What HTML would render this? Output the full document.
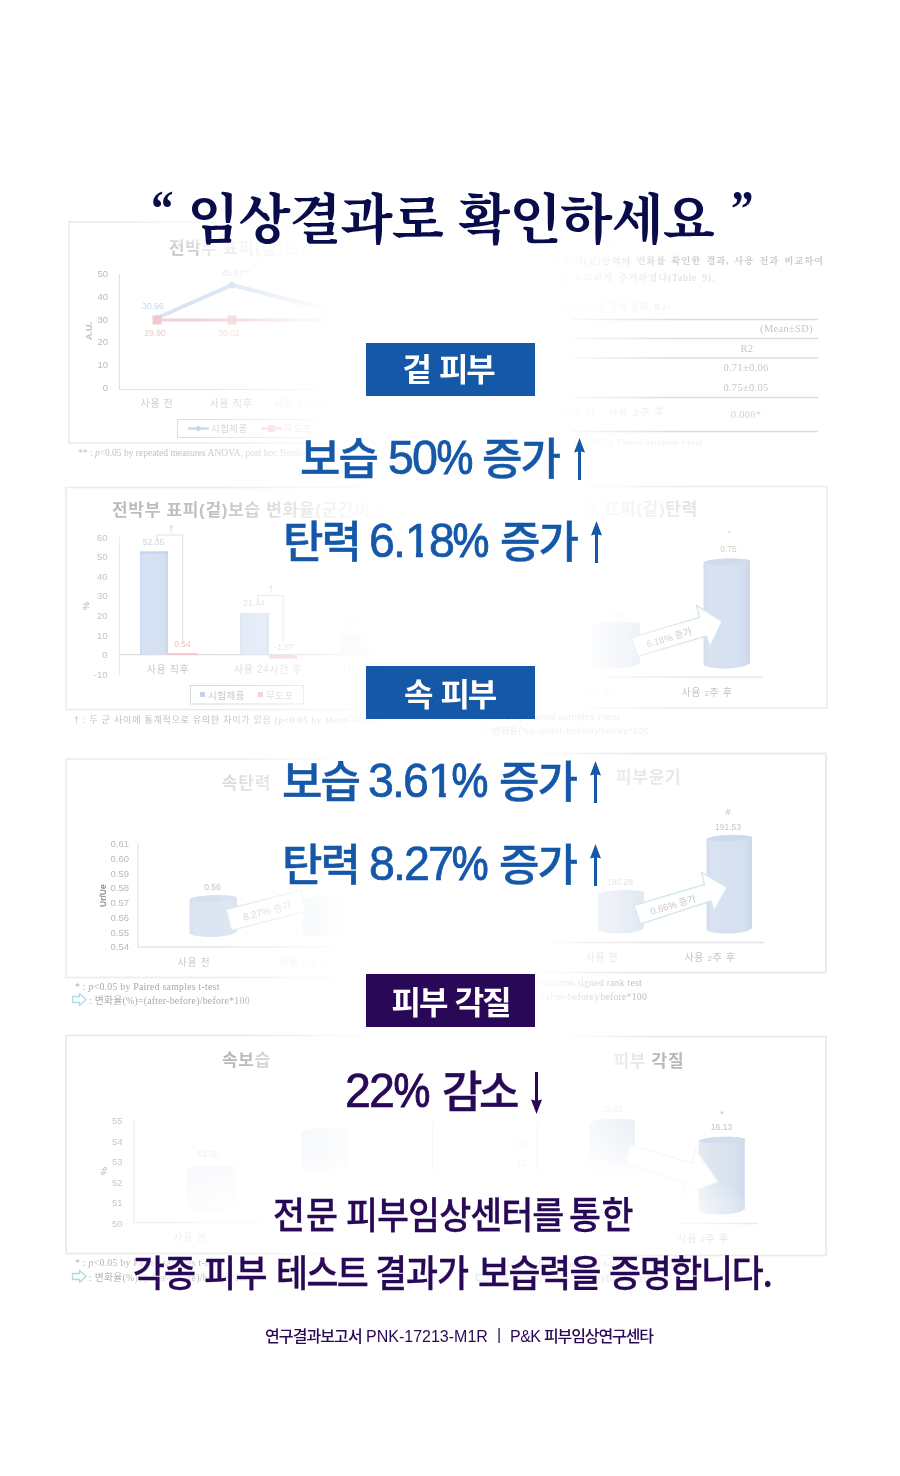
<!DOCTYPE html>
<html lang="ko">
<head>
<meta charset="utf-8">
<title>임상결과로 확인하세요</title>
<style>
html,body{margin:0;padding:0;background:#fff;}
body{width:900px;height:1476px;position:relative;overflow:hidden;font-family:"Liberation Sans","Noto Sans CJK KR",sans-serif;}
.abs,.k,.n,.ar{position:absolute;white-space:nowrap;}
#fg{position:absolute;left:0;top:0;width:900px;height:1476px;}
h1{margin:0;position:absolute;left:0;top:194px;width:900px;height:54px;font-family:"Liberation Serif","Noto Serif CJK SC",serif;font-weight:700;font-size:54px;color:#080c4a;line-height:54px;letter-spacing:-1px;}
h1 span{position:absolute;top:0;white-space:nowrap;}
h1 .q{font-size:50px;top:-13px;transform:scaleX(.9);transform-origin:0 0;}
.badge{left:366px;width:169px;height:53px;color:#fff;}
.badge span{position:absolute;top:0;line-height:53px;font-weight:700;font-size:32px;letter-spacing:-2px;word-spacing:2px;font-family:"Noto Sans CJK KR","NanumGothic",sans-serif;white-space:nowrap;}
.blue{background:#1558a8;}
.purple{background:#290857;}
.row{position:absolute;left:0;width:900px;height:44px;color:#1558a8;fill:#1558a8;}
.row.p{color:#290857;fill:#290857;}
.k{top:0;-webkit-text-stroke:0.4px currentColor;font-family:"Noto Sans CJK KR","NanumGothic",sans-serif;font-weight:500;font-size:44px;line-height:44px;letter-spacing:-2px;}
.n{top:-2px;font-family:"Liberation Sans",sans-serif;font-weight:400;font-size:49px;line-height:50px;letter-spacing:-2px;-webkit-text-stroke:0.7px currentColor;transform:scaleX(.95);transform-origin:0 50%;}
.n b{font-weight:400;display:inline-block;text-shadow:none;margin-left:1px;clip-path:polygon(0 0,18.8px 0,18.8px 100%,11.5px 100%,11.5px 50%,0 50%);}
.n i{font-style:normal;display:inline-block;transform:scaleX(.89);transform-origin:0 50%;-webkit-text-stroke:1.1px currentColor;text-shadow:none;margin-left:0;}
.ar{top:3.5px;width:11px;height:42px;}
.body{position:absolute;left:0;width:900px;height:37px;font-family:"Noto Sans CJK KR","NanumGothic",sans-serif;font-weight:500;font-size:37px;line-height:37px;letter-spacing:-1px;color:#290857;}
.body span{position:absolute;top:0;white-space:nowrap;transform:scaleX(.94);transform-origin:0 0;-webkit-text-stroke:0.3px currentColor;}
.foot{position:absolute;left:0;width:900px;height:16px;font-size:16px;line-height:16px;color:#290857;}
.foot span{position:absolute;top:0;white-space:nowrap;}
.foot .fk{font-family:"Noto Sans CJK KR","NanumGothic",sans-serif;font-weight:500;letter-spacing:-0.9px;}
.foot .fl{font-family:"Liberation Sans",sans-serif;font-weight:400;top:1.5px;}
.k,.n,.body span,h1 span{text-shadow:0 0 3px #fff,0 0 7px #fff,0 0 12px rgba(255,255,255,.8);}
</style>
</head>
<body>
<div id="bg"><svg id="bgsvg" width="900" height="1476" viewBox="0 0 900 1476" style="position:absolute;left:0;top:0" font-family="'Liberation Sans','Noto Sans CJK KR',sans-serif">
<defs>
  <linearGradient id="fadeL" x1="0" x2="1" y1="0" y2="0">
    <stop offset="0" stop-color="#fff" stop-opacity="0"/>
    <stop offset="1" stop-color="#fff" stop-opacity="1"/>
  </linearGradient>
  <linearGradient id="fadeR" x1="0" x2="1" y1="0" y2="0">
    <stop offset="0" stop-color="#fff" stop-opacity="1"/>
    <stop offset="1" stop-color="#fff" stop-opacity="0"/>
  </linearGradient>
  <radialGradient id="glow" cx=".5" cy=".5" r=".5">
    <stop offset="0" stop-color="#fff" stop-opacity="1"/>
    <stop offset=".55" stop-color="#fff" stop-opacity="1"/>
    <stop offset=".8" stop-color="#fff" stop-opacity=".6"/>
    <stop offset="1" stop-color="#fff" stop-opacity="0"/>
  </radialGradient>
  <linearGradient id="tg2" gradientUnits="userSpaceOnUse" x1="112" x2="390" y1="0" y2="0">
    <stop offset="0" stop-color="#bcbcbc"/>
    <stop offset=".4" stop-color="#c2c2c2"/>
    <stop offset=".7" stop-color="#d6d6d6"/>
    <stop offset="1" stop-color="#e6e6e6"/>
  </linearGradient>
  <linearGradient id="cyl" x1="0" x2="1" y1="0" y2="0">
    <stop offset="0" stop-color="#d3ddee"/>
    <stop offset=".12" stop-color="#d8e2f1"/>
    <stop offset=".8" stop-color="#d5e0f0"/>
    <stop offset="1" stop-color="#ccd8ea"/>
  </linearGradient>
  <linearGradient id="cyl4" x1="0" x2="1" y1="0" y2="0">
    <stop offset="0" stop-color="#e4eaf4"/>
    <stop offset=".35" stop-color="#dde5f1"/>
    <stop offset=".8" stop-color="#d6e0ef"/>
    <stop offset="1" stop-color="#cfdaeb"/>
  </linearGradient>
  <linearGradient id="cylv" x1="0" x2="0" y1="0" y2="1">
    <stop offset="0" stop-color="#e6ebf4"/>
    <stop offset=".45" stop-color="#edf1f7"/>
    <stop offset="1" stop-color="#ffffff"/>
  </linearGradient>
  <linearGradient id="cylf" x1="0" x2="1" y1="0" y2="0">
    <stop offset="0" stop-color="#e9eef6"/>
    <stop offset="1" stop-color="#e3e9f3"/>
  </linearGradient>
  <linearGradient id="bar" x1="0" x2="1" y1="0" y2="0">
    <stop offset="0" stop-color="#cddbf0"/>
    <stop offset=".15" stop-color="#d6e2f4"/>
    <stop offset=".85" stop-color="#d4e0f2"/>
    <stop offset="1" stop-color="#c8d5e9"/>
  </linearGradient>
</defs>
<g id="p1">
  <rect x="69" y="222" width="361" height="221" fill="none" stroke="#ececec" stroke-width="1.6"/>
  <text x="169" y="254" font-size="17" font-weight="700" fill="#dcdcdc" letter-spacing="0.5"><tspan fill="#c6c6c6">전박</tspan>부 표피(겉)보습</text>
  <g font-size="9.5" fill="#b9b9b9" text-anchor="end">
    <text x="108" y="276.500">50</text><text x="108" y="299.500">40</text><text x="108" y="322.500">30</text>
    <text x="108" y="345">20</text><text x="108" y="367.500">10</text><text x="108" y="390.500">0</text>
  </g>
  <text transform="translate(92,340) rotate(-90)" font-size="9" font-weight="700" fill="#b8b8b8">A.U.</text>
  <path d="M119.500 274 V389.500 H340" fill="none" stroke="#e3e3e3" stroke-width="1.2"/>
  <path d="M157 318 L232 285 L310 305 L360 312" fill="none" stroke="#d9e4f4" stroke-width="4" stroke-linejoin="round"/>
  <path d="M157 320 H360" fill="none" stroke="#f3d3d6" stroke-width="3.2"/>
  <path d="M232 281 l4 4 -4 4 -4 -4z M157 314 l4 4 -4 4 -4 -4z" fill="#cfdcf0"/>
  <rect x="152.500" y="315.500" width="9" height="9" fill="#f0c9cd"/><rect x="227.500" y="315.500" width="9" height="9" fill="#f3d3d6"/>
  <g font-size="8.500" text-anchor="middle">
    <text x="153" y="309" fill="#c9d6ec">30.96</text><text x="236" y="276" fill="#dfe7f3">45.57**</text>
    <text x="155" y="336" fill="#f1c9cc">29.90</text><text x="229" y="336" fill="#f5d9db">30.02</text>
  </g>
  <g font-size="10" fill="#cfcfcf" text-anchor="middle" letter-spacing="0.6">
    <text x="157" y="407">사용 전</text><text x="231" y="407" fill="#d6d6d6">사용 직후</text><text x="308" y="407" fill="#e6e6e6">사용 24시간 후</text>
  </g>
  <rect x="177.500" y="419.500" width="144" height="18" fill="#fff" stroke="#dedede" stroke-width="1"/>
  <path d="M188 428.500 H209" stroke="#cddaee" stroke-width="2.600"/><path d="M198.500 425.500 l3 3 -3 3 -3 -3z" fill="#c5d4ec"/>
  <text x="211" y="432" font-size="9.500" fill="#cdcdcd" letter-spacing="0.4">시험제품</text>
  <path d="M261 428.500 H282" stroke="#f3d3d6" stroke-width="2.600"/><rect x="268" y="425" width="7" height="7" fill="#f1cdd0"/>
  <text x="284" y="432" font-size="9.500" fill="#d8d8d8" letter-spacing="0.4">무도포</text>
  <text x="78" y="456" font-size="9.500" fill="#c2c2c2" font-family="'Liberation Serif',serif">** : <tspan font-style="italic">p</tspan>&lt;0.05  by repeated measures ANOVA, post hoc Bonferroni</text>
</g>
<g id="p1r" font-family="'Liberation Serif','Noto Serif CJK SC',serif">
  <text x="452" y="249" font-size="9" font-weight="700" fill="#ededed" letter-spacing="1">9-8-3. 전박부 표피(겉) 탄력 평가 결과</text>
  <text x="824" y="264" font-size="9.500" font-weight="700" fill="#c9c9c9" text-anchor="end" letter-spacing="0.75" word-spacing="2">시험제품 사용 후 표피(겉)탄력의 변화를 확인한 결과, 사용 전과 비교하여</text>
  <text x="715" y="281" font-size="9.500" fill="#d9d9d9" text-anchor="end" letter-spacing="0.8" word-spacing="2">사용 2주 후 통계적으로 유의하게 증가하였다(Table 9).</text>
  <text x="672" y="310" font-size="9" fill="#ececec" text-anchor="end" letter-spacing="0.6">&lt;Table 9. 표피(겉)탄력 측정 결과, R2&gt;</text>
  <g stroke="#dcdcdc" stroke-width="1.3">
    <path d="M572 319.500 H818 M572 338.500 H818 M572 358 H818 M572 397.500 H818 M572 431.500 H818"/>
  </g>
  <g font-size="10.500" fill="#c6c6c6" text-anchor="middle" letter-spacing="0.3">
    <text x="786.500" y="332">(Mean±SD)</text>
    <text x="747" y="351.500">R2</text>
    <text x="746" y="371">0.71±0.06</text>
    <text x="746" y="390.500">0.75±0.05</text>
    <text x="746" y="417.500" fill="#d3d3d3">0.006*</text>
    <text x="612" y="416" fill="#e6e6e6" letter-spacing="1">사용 전 - 사용 2주 후</text>
  </g>
  <text x="560" y="444.500" font-size="9" fill="#ebebeb" letter-spacing="0.5">* : p&lt;0.05 by Paired samples t-test</text>
</g>
<g id="p2l">
  <rect x="66" y="487.500" width="384" height="222" fill="none" stroke="#ececec" stroke-width="1.6"/>
  <rect x="450" y="486.500" width="377" height="221.500" fill="none" stroke="#ececec" stroke-width="1.6"/>
  <text x="112" y="516" font-size="17" font-weight="700" fill="url(#tg2)" letter-spacing="0.7">전박부 표피(겉)보습 변화율(군간비교)</text>
  <g font-size="9.500" fill="#c4c4c4" text-anchor="end">
    <text x="107.500" y="540.500">60</text><text x="107.500" y="560">50</text><text x="107.500" y="579.500">40</text><text x="107.500" y="599">30</text>
    <text x="107.500" y="618.500">20</text><text x="107.500" y="638.500">10</text><text x="107.500" y="658">0</text><text x="107.500" y="678">-10</text>
  </g>
  <text transform="translate(88.500,610) rotate(-90)" font-size="9" fill="#a8a8a8">%</text>
  <path d="M119.500 537 V675" fill="none" stroke="#ebebeb" stroke-width="1.2"/>
  <path d="M119.500 654.700 H380" fill="none" stroke="#dcdcdc" stroke-width="1.2"/>
  <rect x="140" y="551.500" width="28" height="103" fill="url(#bar)"/>
  <rect x="140" y="551.500" width="28" height="2" fill="#c5d3e8"/>
  <rect x="168" y="653.200" width="29" height="1.800" fill="#f0c4c8"/>
  <rect x="240" y="613" width="29" height="41.500" fill="url(#bar)" opacity=".8"/>
  <rect x="269" y="655" width="28" height="3.500" fill="#f3cdd0"/>
  <rect x="340" y="633.500" width="29" height="21" fill="url(#bar)" opacity=".5"/>
  <path d="M157 541 V535 H182.700 V643" fill="none" stroke="#e2e2e2" stroke-width="1.1"/>
  <path d="M258 601 V595.500 H283.200 V642" fill="none" stroke="#e2e2e2" stroke-width="1.1"/>
  <g font-size="8.500" text-anchor="middle">
    <text x="171" y="531.500" fill="#c6c6c6">†</text><text x="271" y="592" fill="#d2d2d2">†</text>
    <text x="153.500" y="545" fill="#c9d6ea">52.35</text><text x="182.500" y="647" fill="#efbfc3">0.54</text>
    <text x="254" y="606" fill="#d5deee">21.44</text><text x="284" y="649.500" fill="#f2d0d3">-1.87</text>
    <text x="352" y="625.500" fill="#e6ebf4">11.58</text>
  </g>
  <g font-size="10" fill="#c9c9c9" text-anchor="middle" letter-spacing="0.6">
    <text x="168" y="673">사용 직후</text><text x="268" y="673" fill="#d6d6d6">사용 24시간 후</text><text x="368" y="673" fill="#e2e2e2">사용 1주 후</text>
  </g>
  <rect x="190.500" y="685.500" width="113" height="18.500" fill="#fff" stroke="#d8d8d8" stroke-width="1"/>
  <rect x="200" y="692" width="5" height="5" fill="#c3d2ea"/><text x="208" y="698.500" font-size="9.500" fill="#c6c6c6" letter-spacing="0.5">시험제품</text>
  <rect x="258" y="692" width="5" height="5" fill="#f0c4c8"/><text x="266" y="698.500" font-size="9.500" fill="#cecece" letter-spacing="0.5">무도포</text>
  <text x="74" y="722.500" font-size="9" fill="#c0c0c0" letter-spacing="0.75">† : 두 군 사이에 통계적으로 유의한 차이가 있음 <tspan font-family="'Liberation Serif',serif">(<tspan font-style="italic">p</tspan>&lt;0.05 by Mann-Whitney U test)</tspan></text>
</g>
<g id="p2r">
  <text x="698" y="515" font-size="17" font-weight="700" fill="#ebebeb" text-anchor="end" letter-spacing="0.7">전박부 표피(겉)<tspan fill="#e4e4e4">탄력</tspan></text>
  <path d="M592 625.7 C598.7 620.9000000000001, 633.3 620.5, 640 623.7 V663 C633.3 669.8, 598.7 670.2, 592 665Z" fill="url(#cylf)"/>
  <path d="M703.5 562.5 C710.0 557.7, 743.5 557.3, 750 560.5 V663 C743.5 669.8, 710.0 670.2, 703.5 665Z" fill="url(#cyl)"/>
  <path d="M703.5 562.5 C710.0 557.7, 743.5 557.3, 750 560.5 C743.5 565.5, 710.0 566.5, 703.5 562.5Z" fill="#d0dbec"/>
  <path d="M604 677.200 H763" stroke="#e3e3e3" stroke-width="1.3"/>
  <path d="M631.500 637.500 L699.500 617.300 L696.700 605.600 L722 621.500 L710 646.700 L706.300 636 L637.500 656.500Z" fill="#fff" stroke="#d3e9ef" stroke-width="1.4" stroke-linejoin="miter"/>
  <text transform="translate(670,641) rotate(-16.500)" font-size="9.500" fill="#c8c8c8" text-anchor="middle">6.18% 증가</text>
  <g font-size="8.500" text-anchor="middle" fill="#cfcfcf">
    <text x="728.500" y="551.500">0.75</text><text x="616" y="617.500" fill="#e8e8e8">0.71</text><text x="729" y="536" fill="#dadada">*</text>
  </g>
  <g font-size="10" fill="#c4c4c4" text-anchor="middle" letter-spacing="0.6">
    <text x="707" y="695.500">사용 <tspan font-size="8">2</tspan>주 후</text><text x="598" y="695.500" fill="#f0f0f0">사용 전</text>
  </g>
</g>
<g id="p3l">
  <rect x="66" y="759" width="384" height="218.500" fill="none" stroke="#ececec" stroke-width="1.6"/>
  <text x="222" y="789" font-size="17" font-weight="700" fill="#d8d8d8" letter-spacing="0.7">속탄력</text>
  <g font-size="9.500" fill="#b9b9b9" text-anchor="end">
    <text x="129" y="847">0.61</text><text x="129" y="862">0.60</text><text x="129" y="876.500">0.59</text><text x="129" y="891">0.58</text>
    <text x="129" y="906">0.57</text><text x="129" y="920.500">0.56</text><text x="129" y="935.500">0.55</text><text x="129" y="950">0.54</text>
  </g>
  <text transform="translate(105.500,907) rotate(-90)" font-size="8.500" font-weight="700" fill="#8f8f8f">Ur/Ue</text>
  <path d="M138 843 V947 H340" fill="none" stroke="#e6e6e6" stroke-width="1.3"/>
  <path d="M189.5 899.3 C196.2 894.5, 230.3 894.0999999999999, 237 897.3 V931.5 C230.3 938.3, 196.2 938.7, 189.5 933.5Z" fill="url(#cyl)" opacity=".88"/>
  <path d="M189.5 899.3 C196.2 894.5, 230.3 894.0999999999999, 237 897.3 C230.3 902.3, 196.2 903.3, 189.5 899.3Z" fill="#d6dfee"/>
  <path d="M303 900 C309.6 895.2, 343.4 894.8, 350 898 V931.5 C343.4 938.3, 309.6 938.7, 303 933.5Z" fill="url(#cylf)"/>
  <path d="M226 909.500 L301 890 L306.500 911 L231.500 930.500Z" fill="#fff" stroke="#d6ebf0" stroke-width="1.4"/>
  <text transform="translate(268,914.500) rotate(-14.500)" font-size="10" fill="#cdcdcd" text-anchor="middle">8.27% 증가</text>
  <text x="212.500" y="890" font-size="8.500" fill="#c2c2c2" text-anchor="middle">0.56</text>
  <g font-size="10" fill="#c9c9c9" text-anchor="middle" letter-spacing="0.6">
    <text x="194" y="966">사용 전</text><text x="305" y="966" fill="#e6e6e6">사용 <tspan font-size="8">2</tspan>주 후</text>
  </g>
  <g font-size="9.800" fill="#a9a9a9" letter-spacing="0.25" font-family="'Liberation Serif','Noto Sans CJK KR',serif">
    <text x="75" y="989.500">* : <tspan font-style="italic">p</tspan>&lt;0.05  by Paired samples t-test</text>
    <text x="89" y="1003.500">: 변화율(%)=(after-before)/before*100</text>
  </g>
  <path d="M72.500 996.500 h7 v-3 l6.500 6 -6.500 6 v-3 h-7z" fill="#fff" stroke="#a9dde6" stroke-width="1.3" stroke-linejoin="round"/>
</g>
<g id="p3r">
  <rect x="450" y="753.500" width="376" height="219" fill="none" stroke="#e6e6e6" stroke-width="1.6"/>
  <text x="616" y="782.500" font-size="17" font-weight="700" fill="#e8e8e8" letter-spacing="0.7">피부윤기</text>
  <path d="M598 894 C604.4 889.2, 637.6 888.8, 644 892 V928 C637.6 934.8, 604.4 935.2, 598 930Z" fill="url(#cylf)"/>
  <path d="M706.5 839 C712.9 834.2, 745.6 833.8, 752 837 V928 C745.6 934.8, 712.9 935.2, 706.5 930Z" fill="url(#cyl)"/>
  <path d="M706.5 839 C712.9 834.2, 745.6 833.8, 752 837 C745.6 842, 712.9 843, 706.5 839Z" fill="#cdd9ec"/>
  <path d="M548 942.500 H764" stroke="#e6e6e6" stroke-width="1.3"/>
  <path d="M634 905.500 L704.500 884.500 L701.500 872.500 L727 887.500 L714 911 L711 901 L640.500 924Z" fill="#fff" stroke="#d3e9ef" stroke-width="1.4"/>
  <text transform="translate(674,908) rotate(-16.500)" font-size="9.500" fill="#c8c8c8" text-anchor="middle">0.66% 증가</text>
  <g font-size="8.500" text-anchor="middle" fill="#c6c6c6">
    <text x="728" y="829.500">191.53</text><text x="620" y="884.500" fill="#e0e0e0">190.28</text><text x="728" y="814.500" fill="#bdbdbd">#</text>
  </g>
  <g font-size="10" fill="#c4c4c4" text-anchor="middle" letter-spacing="0.6">
    <text x="710" y="961">사용 <tspan font-size="8">2</tspan>주 후</text><text x="602" y="961" fill="#dedede">사용 전</text>
  </g>
  <g font-size="9.800" fill="#bebebe" letter-spacing="0.2" font-family="'Liberation Serif',serif" text-anchor="end">
    <text x="642" y="986"># : p&lt;0.05 by Wilcoxon signed rank test</text>
    <text x="647" y="999.500">: 변화율(%)=(after-before)/before*100</text>
  </g>
</g>
<g id="p4l">
  <rect x="66" y="1035.500" width="384" height="218" fill="none" stroke="#e9e9e9" stroke-width="1.6"/>
  <rect x="450" y="1036.500" width="376" height="219" fill="none" stroke="#e9e9e9" stroke-width="1.6"/>
  <text x="222" y="1066" font-size="17" font-weight="700" fill="#b9b9b9" letter-spacing="0.7">속보<tspan fill="#cccccc">습</tspan></text>
  <g font-size="9.500" fill="#c8c8c8" text-anchor="end">
    <text x="122.500" y="1124">55</text><text x="122.500" y="1144.500">54</text><text x="122.500" y="1165">53</text>
    <text x="122.500" y="1185.500">52</text><text x="122.500" y="1206">51</text><text x="122.500" y="1226.500">50</text>
  </g>
  <text transform="translate(106.500,1175) rotate(-90)" font-size="9" fill="#a8a8a8">%</text>
  <path d="M134 1120 V1222.500 H300" fill="none" stroke="#efefef" stroke-width="1.3"/>
  <path d="M187 1169 C193.9 1164.2, 229.1 1163.8, 236 1167 V1206 C229.1 1212.8, 193.9 1213.2, 187 1208Z" fill="#f9fafc"/>
  <path d="M301 1131.7 C307.7 1126.9, 342.3 1126.5, 349 1129.7 V1166 C342.3 1172.8, 307.7 1173.2, 301 1168Z" fill="#f1f4f9"/>
  <text x="208" y="1156.500" font-size="8.500" fill="#efefef" text-anchor="middle">51.00</text>
  <text x="190" y="1241" font-size="10" fill="#efefef" text-anchor="middle" letter-spacing="0.6">사용 전</text>
  <g font-size="9.800" fill="#b4b4b4" letter-spacing="0.25" font-family="'Liberation Serif','Noto Sans CJK KR',serif">
    <text x="75" y="1266">* : <tspan font-style="italic">p</tspan>&lt;0.05  by Paired samples t-test</text>
    <text x="89" y="1280.500">: 변화율(%)=(after-before)/before*100</text>
  </g>
  <path d="M72.500 1273.500 h7 v-3 l6.500 6 -6.500 6 v-3 h-7z" fill="#fff" stroke="#a9dde6" stroke-width="1.3" stroke-linejoin="round"/>
</g>
<g id="p4r">
  <text x="613.500" y="1067" font-size="17" font-weight="700" letter-spacing="0.7"><tspan fill="#e2e2e2">피부</tspan><tspan fill="#b9b9b9"> 각질</tspan></text>
  <path d="M589 1123 C595 1118, 629 1117.500, 635 1120.500 V1178 H589Z" fill="url(#cylv)"/>
  <path d="M698.6 1140.8 C705.1 1136.0, 738.3 1135.6, 744.8 1138.8 V1209 C738.3 1215.8, 705.1 1216.2, 698.6 1211Z" fill="url(#cyl4)"/>
  <path d="M698.6 1140.8 C705.1 1136.0, 738.3 1135.6, 744.8 1138.8 C738.3 1143.8, 705.1 1144.8, 698.6 1140.8Z" fill="#d3ddec"/>
  <path transform="translate(627.400,1154.600) rotate(16.600)" d="M0 -10 H64 V-24 L94 0 L64 24 V10 H0Z" fill="#fff" stroke="#f1f7f9" stroke-width="1.2"/>
  <path d="M680 1223.500 H758" stroke="#ececec" stroke-width="1.3"/>
  <g font-size="8.500" text-anchor="middle" fill="#c2c2c2">
    <text x="721.500" y="1130">16.13</text><text x="722" y="1116.500" fill="#bdbdbd">*</text><text x="612" y="1112" fill="#ececec">20.62</text>
  </g>
  <text x="703" y="1241.500" font-size="10" fill="#e4e4e4" text-anchor="middle" letter-spacing="0.6">사용 <tspan font-size="8">2</tspan>주 후</text>
</g>
<g id="fade">
  <rect x="200" y="212" width="135" height="264" fill="url(#fadeL)"/>
  <rect x="335" y="212" width="210" height="264" fill="#fff"/>
  <rect x="545" y="212" width="135" height="264" fill="url(#fadeR)"/>
  <rect x="215" y="476" width="173" height="270" fill="url(#fadeL)"/>
  <rect x="388" y="476" width="187" height="270" fill="#fff"/>
  <rect x="575" y="476" width="115" height="270" fill="url(#fadeR)"/>
  <rect x="215" y="746" width="130" height="276" fill="url(#fadeL)"/>
  <rect x="345" y="746" width="185" height="276" fill="#fff"/>
  <rect x="530" y="746" width="110" height="276" fill="url(#fadeR)"/>
  <rect x="240" y="1022" width="140" height="278" fill="url(#fadeL)"/>
  <rect x="380" y="1022" width="180" height="278" fill="#fff"/>
  <rect x="560" y="1022" width="95" height="278" fill="url(#fadeR)"/>
  <ellipse cx="450" cy="222" rx="340" ry="52" fill="url(#glow)"/>
  <ellipse cx="452" cy="1211" rx="305" ry="62" fill="url(#glow)"/>
  <g font-size="9.500" fill="#f6f6f6" text-anchor="middle"><text x="522" y="1145.500">20</text><text x="522" y="1166">15</text></g>
  <path d="M432.500 1122 V1172 M537 1122 V1172" stroke="#f8f8f8" stroke-width="1"/>
  <g font-size="9.800" fill="#e4e4e4" letter-spacing="0.25" font-family="'Liberation Serif','Noto Sans CJK KR',serif">
    <text x="480" y="1267">* : p&lt;0.05  by Paired samples t-test</text>
    <text x="493" y="1281.500">: 변화율(%)=(after-before)/before*100</text>
  </g>
  <path d="M476.500 1274.500 h7 v-3 l6.500 6 -6.500 6 v-3 h-7z" fill="#fff" stroke="#d3edf2" stroke-width="1.3" stroke-linejoin="round"/>
  <g font-size="9.500" fill="#f0f0f0" letter-spacing="0.2" text-anchor="end" font-family="'Liberation Sans','Noto Sans CJK KR',sans-serif">
    <text x="620" y="719.500">* : p&lt;0.05 by Paired samples t-test</text>
    <text x="649" y="733.500">: 변화율(%)=(after-before)/before*100</text>
  </g>
</g>
</svg>
</div>
<div id="fg">
<h1><span class="q" style="left:150.5px">“</span> <span style="left:187px">임상결과로</span> <span style="left:458px">확인하세요</span> <span class="q" style="left:731px">”</span></h1>

<div class="abs badge blue" style="top:343px"><span style="left:36.5px;top:-2px">겉 피부</span></div>
<div class="row" style="top:434px">
  <span class="k" style="left:300px">보습</span>
  <span class="n" style="left:388px">50<i>%</i></span>
  <span class="k" style="left:482px">증가</span>
  <svg class="ar" style="left:574px" role="img" aria-label="↑" viewBox="0 0 11 42"><path d="M5.5 0 L11 14.6 L7 13.4 L7 42 L4 42 L4 13.4 L0 14.6 Z"/></svg>
</div>
<div class="row" style="top:517px">
  <span class="k" style="left:283px">탄력</span>
  <span class="n" style="left:369px">6.<b>1</b>8<i>%</i></span>
  <span class="k" style="left:500px">증가</span>
  <svg class="ar" style="left:591px" role="img" aria-label="↑" viewBox="0 0 11 42"><path d="M5.5 0 L11 14.6 L7 13.4 L7 42 L4 42 L4 13.4 L0 14.6 Z"/></svg>
</div>

<div class="abs badge blue" style="top:666px"><span style="left:38px">속 피부</span></div>
<div class="row" style="top:757px">
  <span class="k" style="left:282px">보습</span>
  <span class="n" style="left:368px">3.6<b>1</b><i>%</i></span>
  <span class="k" style="left:499px">증가</span>
  <svg class="ar" style="left:590px" role="img" aria-label="↑" viewBox="0 0 11 42"><path d="M5.5 0 L11 14.6 L7 13.4 L7 42 L4 42 L4 13.4 L0 14.6 Z"/></svg>
</div>
<div class="row" style="top:840px">
  <span class="k" style="left:282px">탄력</span>
  <span class="n" style="left:368.500px">8.27<i>%</i></span>
  <span class="k" style="left:499px">증가</span>
  <svg class="ar" style="left:590px" role="img" aria-label="↑" viewBox="0 0 11 42"><path d="M5.5 0 L11 14.6 L7 13.4 L7 42 L4 42 L4 13.4 L0 14.6 Z"/></svg>
</div>

<div class="abs badge purple" style="top:974px"><span style="left:25.5px;word-spacing:1.5px;top:-.5px">피부 각질</span></div>
<div class="row p" style="top:1067px">
  <span class="n" style="left:344.500px">22<i>%</i></span>
  <span class="k" style="left:442px;letter-spacing:-3.5px">감소</span>
  <svg class="ar" style="left:531px;top:4.5px" role="img" aria-label="↓" viewBox="0 0 11 42"><path d="M5.5 42 L11 27.4 L7 28.6 L7 0 L4 0 L4 28.6 L0 27.4 Z"/></svg>
</div>

<div class="body" style="top:1195px"><span style="left:273px;letter-spacing:1px">전문</span> <span style="left:345.5px">피부임상센터를</span> <span style="left:568.500px;letter-spacing:.6px">통한</span></div>
<div class="body" style="top:1253px"><span style="left:133px">각종</span> <span style="left:203.500px;letter-spacing:-.5px">피부</span> <span style="left:275.5px;letter-spacing:-1.7px">테스트</span> <span style="left:375px">결과가</span> <span style="left:477.500px;letter-spacing:-1.6px">보습력을</span> <span style="left:608.5px;letter-spacing:-1.4px">증명합니다.</span></div>
<div class="foot" style="top:1327px"><span class="fk" style="left:265px">연구결과보고서</span> <span class="fl" style="left:366px">PNK-17213-M1R</span> <span class="fl" style="left:497px;top:0">|</span> <span class="fl" style="left:510px;letter-spacing:-.5px">P&amp;K</span> <span class="fk" style="left:544px;letter-spacing:-1.1px">피부임상연구센타</span></div>
</div>
</body>
</html>
